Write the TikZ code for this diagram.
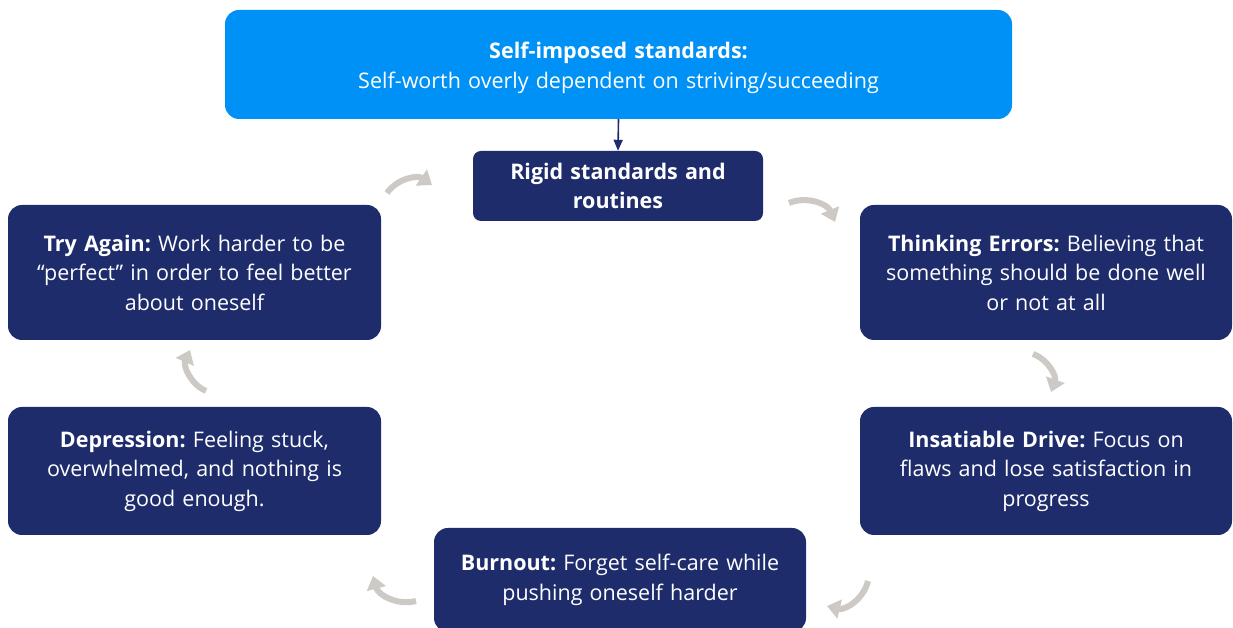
\documentclass[tikz,border=0pt]{standalone}
\usepackage{fontspec}
\setmainfont{Open Sans}
\frenchspacing
\usetikzlibrary{arrows.meta}
\definecolor{navy}{HTML}{1E2C6C}
\definecolor{topblue}{HTML}{0091F6}
\definecolor{arrgray}{HTML}{CDC9C4}
\tikzset{
  box/.style={fill=navy, rounded corners=14pt, text=white, align=center, inner sep=0pt,
    font=\fontsize{21.5}{29.5}\selectfont},
  cyc/.style={arrgray, line width=6pt, -{Triangle[width=19pt,length=13pt]}, bend left=45},
}
\begin{document}
\begin{tikzpicture}[x=1pt,y=1pt]
\frenchspacing
\useasboundingbox (0,0) rectangle (1233,628);
\fill[white] (0,0) rectangle (1233,628);
\node[box, fill=topblue, minimum width=787pt, minimum height=109pt, text width=760pt] (top) at (618.5,563.5)
  {\rule{0pt}{23pt}\textbf{Self-imposed standards:}\\Self-worth overly dependent on striving/succeeding};
\node[box, rounded corners=8pt, minimum width=290pt, minimum height=70pt, text width=280pt] (rigid) at (618,442)
  {\textbf{Rigid standards and}\\\textbf{routines}};
\node[box, minimum width=373pt, minimum height=135pt, text width=365pt] (try) at (194.5,355.5)
  {\textbf{Try Again:} Work harder to be\\“perfect” in order to feel better\\about oneself};
\node[box, minimum width=372pt, minimum height=135pt, text width=365pt] (think) at (1046,355.5)
  {\textbf{Thinking Errors:} Believing that\\something should be done well\\or not at all};
\node[box, minimum width=373pt, minimum height=128pt, text width=365pt] (dep) at (194.5,157)
  {\textbf{Depression:} Feeling stuck,\\overwhelmed, and nothing is\\good enough.};
\node[box, minimum width=372pt, minimum height=128pt, text width=365pt] (ins) at (1046,157)
  {\textbf{Insatiable Drive:} Focus on\\flaws and lose satisfaction in\\progress};
\node[box, minimum width=372pt, minimum height=104pt, text width=365pt] (burn) at (620,48)
  {\textbf{Burnout:} Forget self-care while\\pushing oneself harder};
\draw[navy, line width=1.6pt, -{Triangle[width=9pt,length=11pt]}] (top.south) -- (rigid.north);
\coordinate (a1s) at (387,435); \coordinate (a1e) at (432,443);
\coordinate (a2s) at (789,425); \coordinate (a2e) at (835,406);
\coordinate (a3s) at (1033,274); \coordinate (a3e) at (1051,236);
\coordinate (a4s) at (868,47); \coordinate (a4e) at (827,22);
\coordinate (a5s) at (416,27); \coordinate (a5e) at (373,52);
\coordinate (a6s) at (206,237); \coordinate (a6e) at (190,278);
\draw[cyc] (a1s) to (a1e);
\draw[cyc] (a2s) to (a2e);
\draw[cyc] (a3s) to (a3e);
\draw[cyc] (a4s) to (a4e);
\draw[cyc] (a5s) to (a5e);
\draw[cyc] (a6s) to (a6e);
\end{tikzpicture}
\end{document}
